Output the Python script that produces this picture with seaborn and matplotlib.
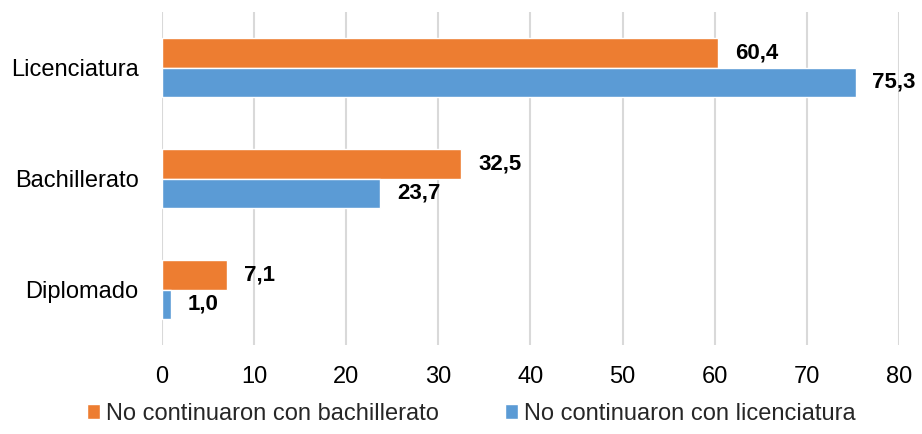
import pandas as pd
import matplotlib.pyplot as plt
import seaborn as sns

categorias = ["Licenciatura", "Bachillerato", "Diplomado"]
series = ["No continuaron con bachillerato", "No continuaron con licenciatura"]
valores_bach = [60.4, 32.5, 7.1]
valores_lic = [75.3, 23.7, 1.0]
colores = ["#ED7D31", "#5B9BD5"]

df = pd.DataFrame({
    "Nivel": categorias * 2,
    "Serie": [series[0]] * 3 + [series[1]] * 3,
    "Valor": valores_bach + valores_lic,
})

sns.set_theme(style="white")
plt.rcParams["font.family"] = ["Liberation Sans", "DejaVu Sans"]

fig = plt.figure(figsize=(9.22, 4.34), dpi=100)
ax = fig.add_axes([0.1757, 0.205, 0.7993, 0.767])

sns.barplot(data=df, y="Nivel", x="Valor", hue="Serie", order=categorias,
            hue_order=series, palette=colores, orient="h", width=0.53,
            saturation=1, ax=ax)

for cont in ax.containers:
    etiquetas = [f"{b.get_width():.1f}".replace(".", ",") for b in cont]
    ax.bar_label(cont, labels=etiquetas, padding=12, fontsize=16,
                 fontweight="bold", color="black")

ax.set_xlim(0, 80)
ax.set_xticks(range(0, 81, 10))
ax.set_xlabel("")
ax.set_ylabel("")
ax.grid(axis="x", color="#d9d9d9", linewidth=1.5)
ax.set_axisbelow(True)
for s in ax.spines.values():
    s.set_visible(False)
ax.tick_params(axis="both", length=0, labelsize=17, colors="black")
ax.tick_params(axis="y", pad=17)
ax.tick_params(axis="x", pad=15)

leg = ax.legend(loc="upper center", bbox_to_anchor=(0.42, -0.11), ncol=2,
                frameon=False, fontsize=17, handlelength=0.55, handleheight=0.55,
                handletextpad=0.25, columnspacing=2.8)

fig.savefig("out.png", dpi=100)
